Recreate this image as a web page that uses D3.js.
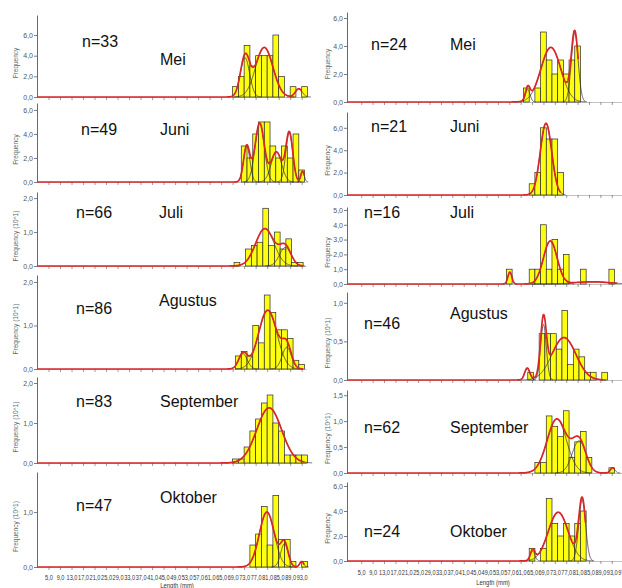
<!DOCTYPE html>
<html>
<head>
<meta charset="utf-8">
<script src="https://cdn.jsdelivr.net/npm/d3@7"></script>
<style>
  body { margin: 0; background: #fff; }
  svg { display: block; font-family: "Liberation Sans", Arial, sans-serif; }
</style>
</head>
<body>
<svg id="chart" width="622" height="588"></svg>
<script>
// ---------------------------------------------------------------------------//
// Data
// ---------------------------------------------------------------------------//
const months = ["Mei", "Juni", "Juli", "Agustus", "September", "Oktober"];
const nLeft = [33, 49, 66, 86, 83, 47];
const nRight = [24, 21, 16, 46, 62, 24];

const freqLabelLeft = ["Frequency", "Frequency", "Frequency (10^1)", "Frequency (10^1)", "Frequency (10^1)", "Frequency (10^1)"];
const freqLabelRight = ["Frequency", "Frequency", "Frequency", "Frequency (10^1)", "Frequency (10^1)", "Frequency"];

const binWidth = 2; // mm
const binStartLeft = [69, 72, 69.5, 70, 69, 75];
const countsLeft = [
  [1, 2, 5, 3, 4, 4, 4, 6, 2, 0, 1, 0, 1],
  [3, 2, 4, 5, 5, 3, 2, 3, 2, 4, 1],
  [0.1, 0, 0.5, 0.6, 0.7, 1.7, 0.6, 1.0, 0.5, 0.8, 0.1, 0.1],
  [0.3, 0.4, 0.3, 1.0, 0.6, 1.7, 1.3, 0.9, 0.9, 0.7, 0.2, 0.1],
  [0.1, 0.1, 0.4, 0.8, 1.1, 1.5, 1.7, 1.0, 0.8, 0.2, 0.2, 0.2, 0.2],
  [0.4, 0.6, 1.1, 0.4, 1.3, 0.5, 0.5, 0.1, 0, 0.1],
];
const binStartRight = [62, 64, 56, 63.5, 66, 64];
const countsRight = [
  [1, 0, 1, 5, 3, 2, 3, 2, 3, 4],
  [1, 2, 6, 5, 5, 2],
  [1, 0, 0, 0, 1, 1, 4, 1, 3, 1, 2, 0, 0, 1, 0, 0, 0, 0, 1],
  [0.1, 0, 0.6, 0.6, 0.6, 0.4, 0.9, 0.2, 0.4, 0.3, 0.1, 0.1, 0, 0.1],
  [0.2, 0.2, 1.1, 0.9, 0.7, 1.2, 0.3, 0.6, 0.8, 0.3, 0, 0, 0, 0.1],
  [1, 0, 1, 5, 3, 2, 3, 2, 3, 4],
];

// fitted normal components: [mean (mm), sd (mm), peak]
const fitLeft = [
  [[73.3, 1.6, 3.8], [80.0, 3.0, 4.8], [92.0, 1.2, 0.8]],
  [[73.9, 1.1, 3.0], [78.4, 1.6, 4.9], [84.2, 1.8, 2.5], [88.7, 1.2, 4.1], [93.3, 0.6, 0.9]],
  [[80.2, 3.2, 1.1], [87.3, 2.0, 0.55]],
  [[72.6, 1.5, 0.35], [81.2, 3.2, 1.35], [87.8, 1.6, 0.5]],
  [[81.7, 4.3, 1.38]],
  [[80.9, 2.6, 1.0], [87.0, 1.3, 0.42], [93.0, 0.7, 0.1]],
];
const fitRight = [
  [[63.5, 0.8, 0.9], [71.6, 3.5, 3.9], [80.0, 1.2, 4.9]],
  [[69.9, 2.0, 6.4]],
  [[57.2, 0.7, 0.8], [71.4, 2.4, 2.9], [86.0, 6.0, 0.15]],
  [[63.3, 0.9, 0.15], [69.0, 1.0, 0.72], [76.2, 4.2, 0.55]],
  [[73.7, 3.4, 1.04], [81.5, 2.4, 0.62], [93.3, 0.8, 0.1]],
  [[65.2, 0.8, 0.8], [74.2, 3.5, 3.9], [82.6, 1.2, 4.9]],
];
const fitEndLeft = [93, 94, 93.5, 93.5, 94, 94];
const fitEndRight = [81.3, 75.2, 95.1, 90, 94, 83.9];

const yMaxLeft = [7.94, 6.58, 2.18, 2.16, 2.15, 1.73];
const yMaxRight = [6.43, 7.41, 5.2, 1.14, 1.6, 6.32];
const yTicksLeft = [[0, 2, 4, 6], [0, 2, 4, 6], [0, 1, 2], [0, 1, 2], [0, 1, 2], [0, 1]];
const yTicksRight = [[0, 2, 4, 6], [0, 2, 4, 6], [0, 1, 2, 3, 4, 5], [0, 0.5, 1], [0, 0.5, 1, 1.5], [0, 2, 4, 6]];

const xTickValues = [5, 9, 13, 17, 21, 25, 29, 33, 37, 41, 45, 49, 53, 57, 61, 65, 69, 73, 77, 81, 85, 89, 93, 97];

// ---------------------------------------------------------------------------//
// Layout
// ---------------------------------------------------------------------------//
const colLeft = {
  x0: 37, x1: 306, domain: [1, 94.5],
  base: [97, 182, 266, 369, 463, 567],
  top: [15, 103, 192, 275, 377, 472],
  freqX: 18,
  nPos: [[82, 47], [81, 135], [76, 218], [76, 314], [76, 407], [76, 511]],
  monthPos: [[160, 65], [160, 135], [159, 218], [159, 306], [160, 407], [160, 503]],
  labelY: 13, titlePos: [177, 588],
  n: nLeft, freq: freqLabelLeft, binStart: binStartLeft, counts: countsLeft,
  fit: fitLeft, fitEnd: fitEndLeft, yMax: yMaxLeft, yTicks: yTicksLeft,
};
const colRight = {
  x0: 347, x1: 626, domain: [0, 98],
  base: [102, 195, 284, 380, 473, 561],
  top: [12, 112, 207, 292, 390, 482],
  freqX: 330,
  nPos: [[371, 50], [371, 132], [364, 218], [364, 329], [364, 433], [364, 537]],
  monthPos: [[450, 50], [450, 132], [450, 218], [450, 319], [450, 433], [450, 537]],
  labelY: 14, titlePos: [493, 585],
  n: nRight, freq: freqLabelRight, binStart: binStartRight, counts: countsRight,
  fit: fitRight, fitEnd: fitEndRight, yMax: yMaxRight, yTicks: yTicksRight,
};

const svg = d3.select("#chart");
const fmt = (v) => d3.format(".1f")(v).replace(".", ",");
const RED = "#d8262a";

function gauss(c, v) {
  return c[2] * Math.exp(-((v - c[0]) ** 2) / (2 * c[1] * c[1]));
}

function drawPanel(col, i) {
  const x = d3.scaleLinear().domain(col.domain).range([col.x0, col.x1]);
  const y = d3.scaleLinear().domain([0, col.yMax[i]]).range([col.base[i], col.top[i]]);
  const g = svg.append("g");
  const isBottom = i === months.length - 1;

  // x axis
  const xAxis = d3.axisBottom(x)
    .tickValues(xTickValues.filter((v) => v <= col.domain[1]))
    .tickSize(3)
    .tickSizeOuter(0)
    .tickFormat(isBottom ? fmt : () => "");
  const ax = g.append("g")
    .attr("transform", `translate(0,${col.base[i]})`)
    .call(xAxis)
    .attr("font-family", null)
    .attr("font-size", null);
  ax.select(".domain").attr("stroke", "#999").attr("stroke-width", 0.6);
  ax.selectAll(".tick line").attr("stroke", "#555").attr("stroke-width", 0.6);
  if (isBottom) {
    // condensed labels, squeezed horizontally as in the original
    ax.selectAll(".tick text")
      .attr("y", col.labelY)
      .attr("dy", null)
      .attr("font-size", 8)
      .attr("fill", "#333")
      .attr("transform", "scale(0.7,1)");
    g.append("text")
      .attr("transform", `translate(${col.titlePos[0]},${col.titlePos[1]}) scale(0.85,1)`)
      .attr("text-anchor", "middle")
      .attr("font-size", 7)
      .attr("fill", "#333")
      .text("Length (mm)");
  }

  // y axis
  const yAxis = d3.axisLeft(y)
    .tickValues(col.yTicks[i])
    .tickSize(3)
    .tickSizeOuter(0)
    .tickFormat(fmt);
  const ay = g.append("g")
    .attr("transform", `translate(${col.x0},0)`)
    .call(yAxis)
    .attr("font-family", null)
    .attr("font-size", null);
  ay.select(".domain").attr("stroke", "#444").attr("stroke-width", 0.8);
  ay.selectAll(".tick line").attr("stroke", "#444").attr("stroke-width", 0.7);
  ay.selectAll(".tick text")
    .attr("x", -4)
    .attr("font-size", 7)
    .attr("fill", "#555");

  // y axis title
  const midY = (col.top[i] + col.base[i]) / 2 + 7;
  g.append("text")
    .attr("transform", `translate(${col.freqX},${midY}) rotate(-90)`)
    .attr("text-anchor", "middle")
    .attr("font-size", 6.5)
    .attr("fill", "#666")
    .text(col.freq[i]);

  // histogram bars
  const bins = col.counts[i].map((v, k) => ({ x0: col.binStart[i] + k * binWidth, v }));
  g.append("g")
    .selectAll("rect")
    .data(bins.filter((d) => d.v > 0))
    .join("rect")
    .attr("x", (d) => x(d.x0))
    .attr("width", (d) => x(d.x0 + binWidth) - x(d.x0))
    .attr("y", (d) => y(d.v))
    .attr("height", (d) => y(0) - y(d.v))
    .attr("fill", "#ffff10")
    .attr("stroke", "#2a2a2a")
    .attr("stroke-width", 0.7);

  const line = d3.line().x((d) => x(d[0])).y((d) => y(d[1])).curve(d3.curveLinear);

  // component curves
  col.fit[i].forEach((c) => {
    const a = Math.max(col.domain[0], c[0] - 3.5 * c[1]);
    const b = c[0] + 3.5 * c[1];
    const pts = d3.range(a, b, 0.1).map((v) => [v, gauss(c, v)]);
    g.append("path")
      .attr("d", line(pts))
      .attr("fill", "none")
      .attr("stroke", "#2b2b2b")
      .attr("stroke-width", 0.7);
  });

  // total fitted curve
  const redPts = d3.range(col.domain[0], col.fitEnd[i], 0.1)
    .map((v) => [v, d3.sum(col.fit[i], (c) => gauss(c, v))]);
  g.append("path")
    .attr("d", line(redPts))
    .attr("fill", "none")
    .attr("stroke", RED)
    .attr("stroke-width", 1.7)
    .attr("stroke-linejoin", "round");

  // n and month labels
  g.append("text")
    .attr("x", col.nPos[i][0])
    .attr("y", col.nPos[i][1])
    .attr("font-size", 16)
    .attr("fill", "#111")
    .text(`n=${col.n[i]}`);
  g.append("text")
    .attr("x", col.monthPos[i][0])
    .attr("y", col.monthPos[i][1])
    .attr("font-size", 16)
    .attr("fill", "#111")
    .text(months[i]);
}

months.forEach((m, i) => {
  drawPanel(colLeft, i);
  drawPanel(colRight, i);
});
</script>
</body>
</html>
